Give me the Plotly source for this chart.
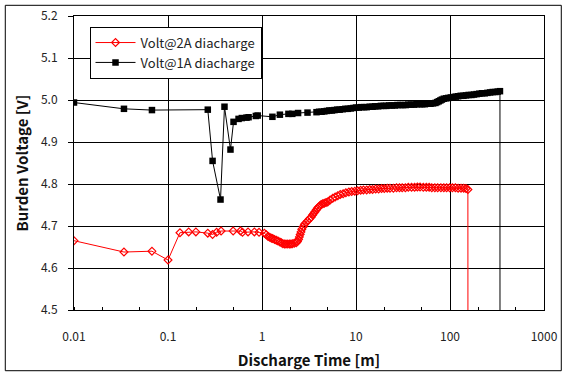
import plotly.graph_objects as go

# ---- data ----
t_1a = [0.01, 0.034, 0.0675, 0.265, 0.298, 0.362, 0.399, 0.462, 0.498, 0.563, 0.61, 0.684, 0.72, 0.86, 0.9,
        1.29, 1.55, 1.91, 2.1, 2.42, 3.05,
        3.8, 4.05, 4.3, 4.6, 4.9, 5.2, 5.55, 5.9, 6.3, 6.7, 7.2, 7.7, 8.2, 8.8, 9.4, 10, 10.7, 11.4, 12.2, 13,
        14, 15, 16, 17.2, 18.4, 19.7, 21, 22.5, 24, 25.8, 27.6, 29.5, 31.6, 33.8, 36, 38.6, 41.3, 44.2, 47.3,
        50.6, 54, 58, 62, 66, 70, 73, 76, 79, 82, 86, 91, 96, 102, 108, 115, 122, 130, 139, 148, 158, 169, 180,
        192, 205, 219, 234, 250, 267, 285, 304, 322, 340, 342]
v_1a = [4.994, 4.979, 4.976, 4.977, 4.855, 4.763, 4.984, 4.882, 4.948, 4.955, 4.957, 4.958, 4.959, 4.962, 4.963,
        4.960, 4.965, 4.967, 4.967, 4.969, 4.970,
        4.971, 4.972, 4.972, 4.973, 4.974, 4.975, 4.975, 4.976, 4.977, 4.977, 4.978, 4.979, 4.979, 4.980, 4.981,
        4.982, 4.982, 4.983, 4.983, 4.983, 4.984, 4.984, 4.985, 4.985, 4.986, 4.986, 4.986, 4.987, 4.987, 4.987,
        4.988, 4.988, 4.988, 4.988, 4.989, 4.989, 4.989, 4.990, 4.990, 4.990, 4.990, 4.991, 4.991, 4.992, 4.993,
        4.995, 4.997, 4.999, 5.001, 5.003, 5.004, 5.005, 5.006, 5.007, 5.008, 5.009, 5.010, 5.010, 5.011, 5.012,
        5.012, 5.013, 5.014, 5.015, 5.016, 5.016, 5.017, 5.018, 5.019, 5.019, 5.020, 5.021, 0.0]

t_2a = [0.01, 0.034, 0.0675, 0.1, 0.134, 0.166, 0.198, 0.265, 0.298, 0.329, 0.367, 0.493, 0.59, 0.62, 0.71,
        0.83, 0.93, 1.06, 1.11,
        1.16, 1.21, 1.26, 1.3, 1.36, 1.42, 1.48, 1.55, 1.61, 1.67, 1.74, 1.8, 1.88, 1.96, 2.03, 2.1, 2.2, 2.31,
        2.38, 2.45, 2.5, 2.55, 2.6, 2.65, 2.74, 2.83, 2.94, 3.05, 3.2, 3.34, 3.45, 3.55, 3.66, 3.77, 3.88, 4.0,
        4.13, 4.26, 4.43, 4.6, 4.8,
        5.0, 5.3, 5.66, 6.0, 6.4, 6.8, 7.3, 7.8, 8.4, 9.0, 9.7, 10.4, 11.2, 12, 13, 14, 15, 16.2, 17.4, 18.7, 20,
        21.5, 23, 25, 27, 29, 31, 33.5, 36, 39, 42, 45, 48, 52, 56, 60, 64, 69, 74, 80, 86, 92, 99, 106, 114,
        122, 131, 140, 148, 155, 158]
v_2a = [4.665, 4.638, 4.640, 4.619, 4.684, 4.686, 4.686, 4.683, 4.680, 4.685, 4.688, 4.688, 4.688, 4.685, 4.686,
        4.686, 4.685, 4.683, 4.679,
        4.675, 4.673, 4.671, 4.670, 4.668, 4.666, 4.664, 4.662, 4.660, 4.658, 4.657, 4.657, 4.657, 4.657, 4.657,
        4.658, 4.659, 4.660, 4.663, 4.668, 4.674, 4.680, 4.686, 4.692, 4.698, 4.704, 4.708, 4.712, 4.717, 4.721,
        4.726, 4.730, 4.734, 4.738, 4.742, 4.745, 4.748, 4.751, 4.753, 4.754, 4.756,
        4.757, 4.762, 4.766, 4.769, 4.772, 4.775, 4.777, 4.779, 4.781, 4.782, 4.783, 4.784, 4.785, 4.786, 4.786,
        4.787, 4.787, 4.788, 4.788, 4.789, 4.789, 4.790, 4.790, 4.790, 4.791, 4.791, 4.791, 4.791, 4.792, 4.792,
        4.792, 4.793, 4.793, 4.792, 4.792, 4.792, 4.791, 4.791, 4.791, 4.791, 4.791, 4.791, 4.791, 4.791, 4.791,
        4.790, 4.790, 4.790, 4.789, 4.787, 0.0]

x_tickvals = [0.01, 0.1, 1, 10, 100, 1000]
x_ticktext = ["0.01", "0.1", "1", "10", "100", "1000"]
y_tickvals = [4.5, 4.6, 4.7, 4.8, 4.9, 5.0, 5.1, 5.2]

FONT = "Noto Sans CJK KR, Noto Sans, sans-serif"

fig = go.Figure()
fig.add_trace(go.Scatter(
    x=t_2a, y=v_2a, mode="lines+markers", name="Volt@2A diacharge",
    line=dict(color="#ff0000", width=1),
    marker=dict(symbol="diamond-open", size=6, color="#ff0000", line=dict(width=1.2, color="#ff0000")),
    legendgroup="a"))
fig.add_trace(go.Scatter(
    x=t_1a, y=v_1a, mode="lines+markers", name="Volt@1A diacharge",
    line=dict(color="#000000", width=1),
    marker=dict(symbol="square", size=6.5, color="#000000"),
    legendgroup="b"))

fig.update_layout(
    width=567, height=378,
    margin=dict(l=74, r=23, t=16, b=68),
    paper_bgcolor="white", plot_bgcolor="white",
    font=dict(family=FONT, size=12, color="#222"),
    showlegend=True,
    legend=dict(x=0.033, y=0.964, xanchor="left", yanchor="top",
                bgcolor="white", bordercolor="black", borderwidth=1,
                font=dict(family=FONT, size=13, color="#222"),
                itemwidth=40, entrywidth=174,
                tracegroupgap=4, traceorder="normal"),
    xaxis=dict(type="log", range=[-2, 3], tickvals=x_tickvals, ticktext=x_ticktext,
               automargin=False,
               showgrid=True, gridcolor="black", gridwidth=1,
               showline=True, linecolor="black", linewidth=1, mirror=True,
               ticks="", ticklabelstandoff=16,
               minor=dict(ticks="inside", ticklen=3, tickcolor="black", showgrid=False),
               tickfont=dict(size=12, color="#222"),
               title=dict(text="Discharge Time [m]", font=dict(size=15, color="#111", weight="bold"), standoff=12),
               zeroline=False),
    yaxis=dict(range=[4.5, 5.2], tickvals=y_tickvals, tickformat=".1f",
               automargin=False,
               showgrid=True, gridcolor="black", gridwidth=1,
               showline=True, linecolor="black", linewidth=1, mirror=True,
               ticks="outside", ticklen=5, tickcolor="black", ticklabelstandoff=8,
               tickfont=dict(size=12, color="#222"),
               title=dict(text="Burden Voltage [V]", font=dict(size=15, color="#111", weight="bold"), standoff=8),
               zeroline=False),
    shapes=[dict(type="rect", xref="paper", yref="paper",
                 x0=-0.1462, x1=1.0368, y0=-0.2065, y1=1.0364,
                 line=dict(color="black", width=1), layer="below")],
)

fig.write_html("out.html", config={"displayModeBar": False})

# remove the default page margin so the figure sits at the window's origin
with open("out.html", "r", encoding="utf-8") as f:
    html = f.read()
html = html.replace("<head>", "<head><style>html,body{margin:0;padding:0;overflow:hidden;}</style>", 1)
with open("out.html", "w", encoding="utf-8") as f:
    f.write(html)
